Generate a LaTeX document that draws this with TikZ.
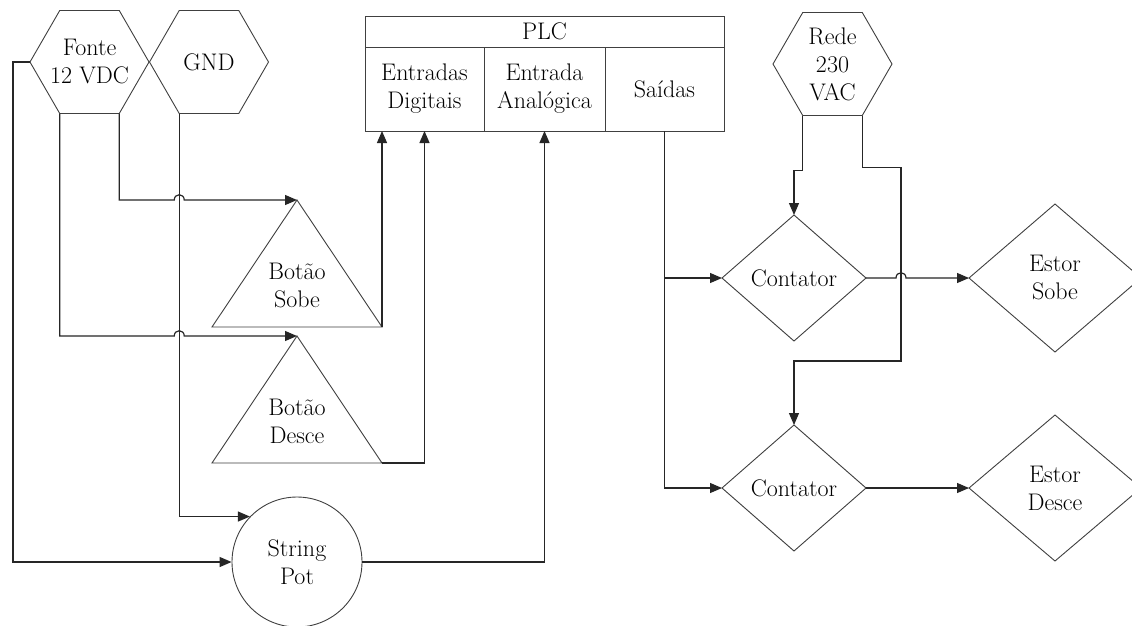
\documentclass[tikz,border=0pt]{standalone}
\usepackage{fontspec}
\usetikzlibrary{shapes.geometric,arrows.meta}
\newcommand\lblfont{\rmfamily\fontsize{24}{28}\selectfont\addfontfeatures{FakeBold=0.5}}
\tikzset{
  lbl/.style={font=\lblfont, align=center, inner sep=0pt},
  outline/.style={draw=black!75, line width=0.9pt},
  hexa/.style={outline, regular polygon, regular polygon sides=6,
    minimum size=119pt, inner sep=0pt, outer sep=0pt},
  cell/.style={lbl, outline, rectangle, outer sep=0pt},
  rhomb/.style={lbl, outline, diamond, outer sep=0pt},
  wire/.style={draw=black!85, line width=1.2pt},
  tip/.style={-{Triangle[length=12pt,width=10pt]}},
}
\begin{document}
\begin{tikzpicture}[x=1pt,y=-1pt]
\path[use as bounding box, fill=white] (0,0) rectangle (1132,625);
\clip (0,0) rectangle (1132,625);

% power sources
\node[hexa] (fonte) at (89.5,62) {};
\node[lbl] (fonte-t) at (fonte.center) {Fonte\\12 VDC};
\node[hexa] (gnd) at (209,62) {};
\node[lbl] (gnd-t) at (gnd.center) {GND};
\node[hexa] (rede) at (832.5,64) {};
\node[lbl] (rede-t) at (rede.center) {Rede\\230\\VAC};

% PLC block
\node[cell, minimum width=359pt, minimum height=31pt] (plc) at (544.5,31.5) {PLC};
\node[cell, minimum width=119pt, minimum height=84pt] (ed) at (424.5,89) {Entradas\\Digitais};
\node[cell, minimum width=121pt, minimum height=84pt] (ea) at (544.5,89) {Entrada\\Analógica};
\node[cell, minimum width=119pt, minimum height=84pt] (sa) at (664.5,89) {Saídas};

% push buttons
\coordinate (bs-apex) at (297,200);
\coordinate (bs-l) at (212,327);
\coordinate (bs-r) at (382,327);
\draw[outline] (bs-apex) -- (bs-r) -- (bs-l) -- cycle;
\node[lbl] (bs) at (297,285) {Botão\\Sobe};

\coordinate (bd-apex) at (297,336);
\coordinate (bd-l) at (212,463);
\coordinate (bd-r) at (382,463);
\draw[outline] (bd-apex) -- (bd-r) -- (bd-l) -- cycle;
\node[lbl] (bd) at (297,421) {Botão\\Desce};

% string potentiometer
\node[lbl, outline, circle, minimum size=130pt] (pot) at (297,562) {String\\Pot};

% contactors and blinds
\node[rhomb, minimum width=144pt, minimum height=126pt] (c1) at (794,278) {Contator};
\node[rhomb, minimum width=144pt, minimum height=126pt] (c2) at (794,488) {Contator};
\node[rhomb, minimum width=172pt, minimum height=148pt] (es) at (1055,278) {Estor\\Sobe};
\node[rhomb, minimum width=172pt, minimum height=146pt] (edsc) at (1055,488) {Estor\\Desce};

% crossing points
\coordinate (hop1) at (gnd.240 |- bs-apex);
\coordinate (hop2) at (gnd.240 |- bd-apex);

% 12 VDC supply wiring
\draw[wire, tip] (fonte.west) -- ++(-17,0) |- (pot.west);
\draw[wire, tip] (fonte.300) -- (fonte.300 |- bs-apex) -- ([xshift=-5pt]hop1)
  .. controls ([xshift=-5pt,yshift=7pt]hop1) and ([xshift=5pt,yshift=7pt]hop1) .. ([xshift=5pt]hop1)
  -- (bs-apex);
\draw[wire, tip] (fonte.240) -- (fonte.240 |- bd-apex) -- ([xshift=-5pt]hop2)
  .. controls ([xshift=-5pt,yshift=7pt]hop2) and ([xshift=5pt,yshift=7pt]hop2) .. ([xshift=5pt]hop2)
  -- (bd-apex);

% ground
\draw[wire, tip] (gnd.240) |- (pot.136);

% PLC inputs
\draw[wire, tip] (bs-r) -- (bs-r |- ed.south);
\draw[wire, tip] (bd-r) -| (ed.south);
\draw[wire, tip] (pot.east) -| (ea.south);

% PLC outputs
\draw[wire, tip] (sa.south) |- (c1.west);
\draw[wire, tip] (sa.south) |- (c2.west);

% 230 VAC mains
\draw[wire, tip] (rede.240) -- ++(0,55) -| (c1.north);
\draw[wire, tip] (rede.300) -- ++(0,52) -- ++(38.75,0) coordinate (r2)
  -- ++(0,193.5) -| (c2.north);
\coordinate (hop3) at (r2 |- c1.east);

% contactor outputs
\draw[wire, tip] (c1.east) -- ([xshift=-5pt]hop3)
  .. controls ([xshift=-5pt,yshift=7pt]hop3) and ([xshift=5pt,yshift=7pt]hop3) .. ([xshift=5pt]hop3)
  -- (es.west);
\draw[wire, tip] (c2.east) -- (edsc.west);
\end{tikzpicture}
\end{document}
